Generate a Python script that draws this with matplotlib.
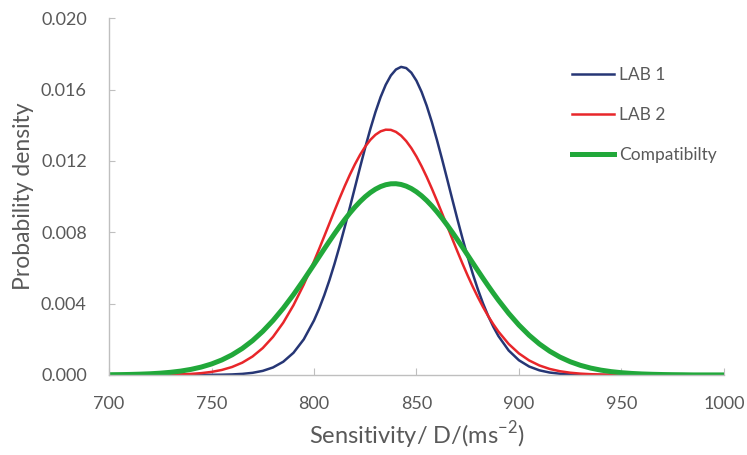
import numpy as np
import matplotlib.pyplot as plt

# Sensitivity grid (D/(ms-2)) and probability densities
sens = list(range(700, 1001, 5))

lab1 = [0, 0, 0, 0, 0, 0, 0, 0, 0, 0,
        0.000005, 0.000012, 0.000027, 0.000058, 0.000117, 0.000227, 0.000419, 0.000739,
        0.001242, 0.001993, 0.003053, 0.004463, 0.006224, 0.008285, 0.010519, 0.012749,
        0.014740, 0.016265, 0.017125, 0.017205, 0.016495, 0.015091, 0.013172, 0.010973,
        0.008721, 0.006616, 0.004787, 0.003307, 0.002179, 0.001370, 0.000822, 0.000471,
        0.000257, 0.000134, 0.000067, 0.000032, 0.000014,
        0.000006, 0, 0, 0, 0, 0, 0, 0, 0, 0, 0, 0, 0, 0]

lab2 = [0, 0, 0, 0,
        0.000005, 0.000009, 0.000017, 0.000032, 0.000057, 0.000100, 0.000169, 0.000278,
        0.000444, 0.000687, 0.001032, 0.001506, 0.002133, 0.002930, 0.003910, 0.005064,
        0.006367, 0.007770, 0.009205, 0.010585, 0.011814, 0.012802, 0.013465, 0.013749,
        0.013626, 0.013110, 0.012244, 0.011100, 0.009768, 0.008344, 0.006919, 0.005569,
        0.004352, 0.003300, 0.002430, 0.001736, 0.001205, 0.000811, 0.000530, 0.000336,
        0.000207, 0.000124, 0.000072, 0.000041, 0.000022, 0.000012, 0.000006,
        0, 0, 0, 0, 0, 0, 0, 0, 0, 0]

compat = [0.000010, 0.000016, 0.000026, 0.000042, 0.000064, 0.000098, 0.000147, 0.000215,
          0.000311, 0.000441, 0.000613, 0.000838, 0.001125, 0.001483, 0.001920, 0.002442,
          0.003049, 0.003739, 0.004504, 0.005328, 0.006190, 0.007063, 0.007914, 0.008709,
          0.009413, 0.009991, 0.010414, 0.010662, 0.010720, 0.010585, 0.010265, 0.009777,
          0.009144, 0.008400, 0.007579, 0.006714, 0.005842, 0.004993, 0.004190, 0.003453,
          0.002796, 0.002223, 0.001735, 0.001331, 0.001002, 0.000741, 0.000538, 0.000384,
          0.000269, 0.000185, 0.000125, 0.000083, 0.000054, 0.000035, 0.000022, 0.000013,
          0.000008, 0, 0, 0, 0]

# extra readings in between, around the peaks
sens_mid = [802.5, 807.5, 812.5, 817.5, 822.5, 827.5, 832.5, 837.5, 842.5,
            847.5, 852.5, 857.5, 862.5, 867.5, 872.5, 877.5, 882.5, 887.5]
lab1_mid = [0.003713, 0.005302, 0.007223, 0.009390, 0.011649, 0.013789, 0.015576, 0.016787,
            0.017270, 0.016945, 0.015870, 0.014182, 0.012094, 0.009840, 0.007641, 0.005661,
            0.004003, 0.002701]
lab2_mid = [0.007059, 0.008488, 0.009906, 0.011224, 0.012344, 0.013179, 0.013657, 0.013739,
            0.013416, 0.012717, 0.011700, 0.010451, 0.009062, 0.007627, 0.006231, 0.004942,
            0.003804, 0.002842]
compat_mid = [0.006626, 0.007493, 0.008321, 0.009075, 0.009719, 0.010223, 0.010561, 0.010715,
              0.010677, 0.010448, 0.010041, 0.009477, 0.008784, 0.007997, 0.007150, 0.006277,
              0.005412, 0.004585]

labels = ["LAB 1", "LAB 2", "Compatibilty"]
xticks = [700, 750, 800, 850, 900, 950, 1000]
yticks = [0.000, 0.004, 0.008, 0.012, 0.016, 0.020]

def merged(a, b):
    x = np.array(sens + sens_mid, dtype=float)
    y = np.array(a + b, dtype=float)
    o = np.argsort(x)
    return x[o], y[o]

plt.rcParams['font.family'] = ['Lato', 'DejaVu Sans']
plt.rcParams['axes.unicode_minus'] = False
grey = "#595959"

fig = plt.figure(figsize=(7.47, 4.55), dpi=100)
ax = fig.add_axes([0.146, 0.176, 0.823, 0.784])

x1, y1 = merged(lab1, lab1_mid)
x2, y2 = merged(lab2, lab2_mid)
x3, y3 = merged(compat, compat_mid)
ax.plot(x1, y1, color="#263675", lw=1.8, label=labels[0], solid_joinstyle="round")
ax.plot(x2, y2, color="#e8262a", lw=1.8, label=labels[1], solid_joinstyle="round")
ax.plot(x3, y3, color="#21a83a", lw=3.6, label=labels[2], solid_joinstyle="round")

ax.set_xlim(700, 1000)
ax.set_ylim(0, 0.020)
ax.set_xticks(xticks)
ax.set_yticks(yticks)
ax.set_yticklabels(["{:.3f}".format(v) for v in yticks])

for s in ["top", "right"]:
    ax.spines[s].set_visible(False)
for s in ["left", "bottom"]:
    ax.spines[s].set_color("#bfbfbf")
    ax.spines[s].set_linewidth(1.0)

ax.tick_params(axis="x", direction="in", length=5, color="#bfbfbf", labelcolor=grey,
               labelsize=13, pad=15)
ax.tick_params(axis="y", direction="in", length=4, color="#bfbfbf", labelcolor=grey,
               labelsize=13, pad=16)

ax.set_xlabel(r"Sensitivity/ D/(ms$^{\mathregular{-2}}$)", color=grey, fontsize=17, labelpad=5)
ax.set_ylabel("Probability density", color=grey, fontsize=16.5, labelpad=5)

leg = ax.legend(loc="upper left", bbox_to_anchor=(0.753, 0.864), frameon=False,
                fontsize=12.5, handlelength=2.4, handletextpad=0.3, labelspacing=1.38,
                borderpad=0, borderaxespad=0)
for t in leg.get_texts():
    t.set_color(grey)

plt.savefig("out.png", dpi=100)
